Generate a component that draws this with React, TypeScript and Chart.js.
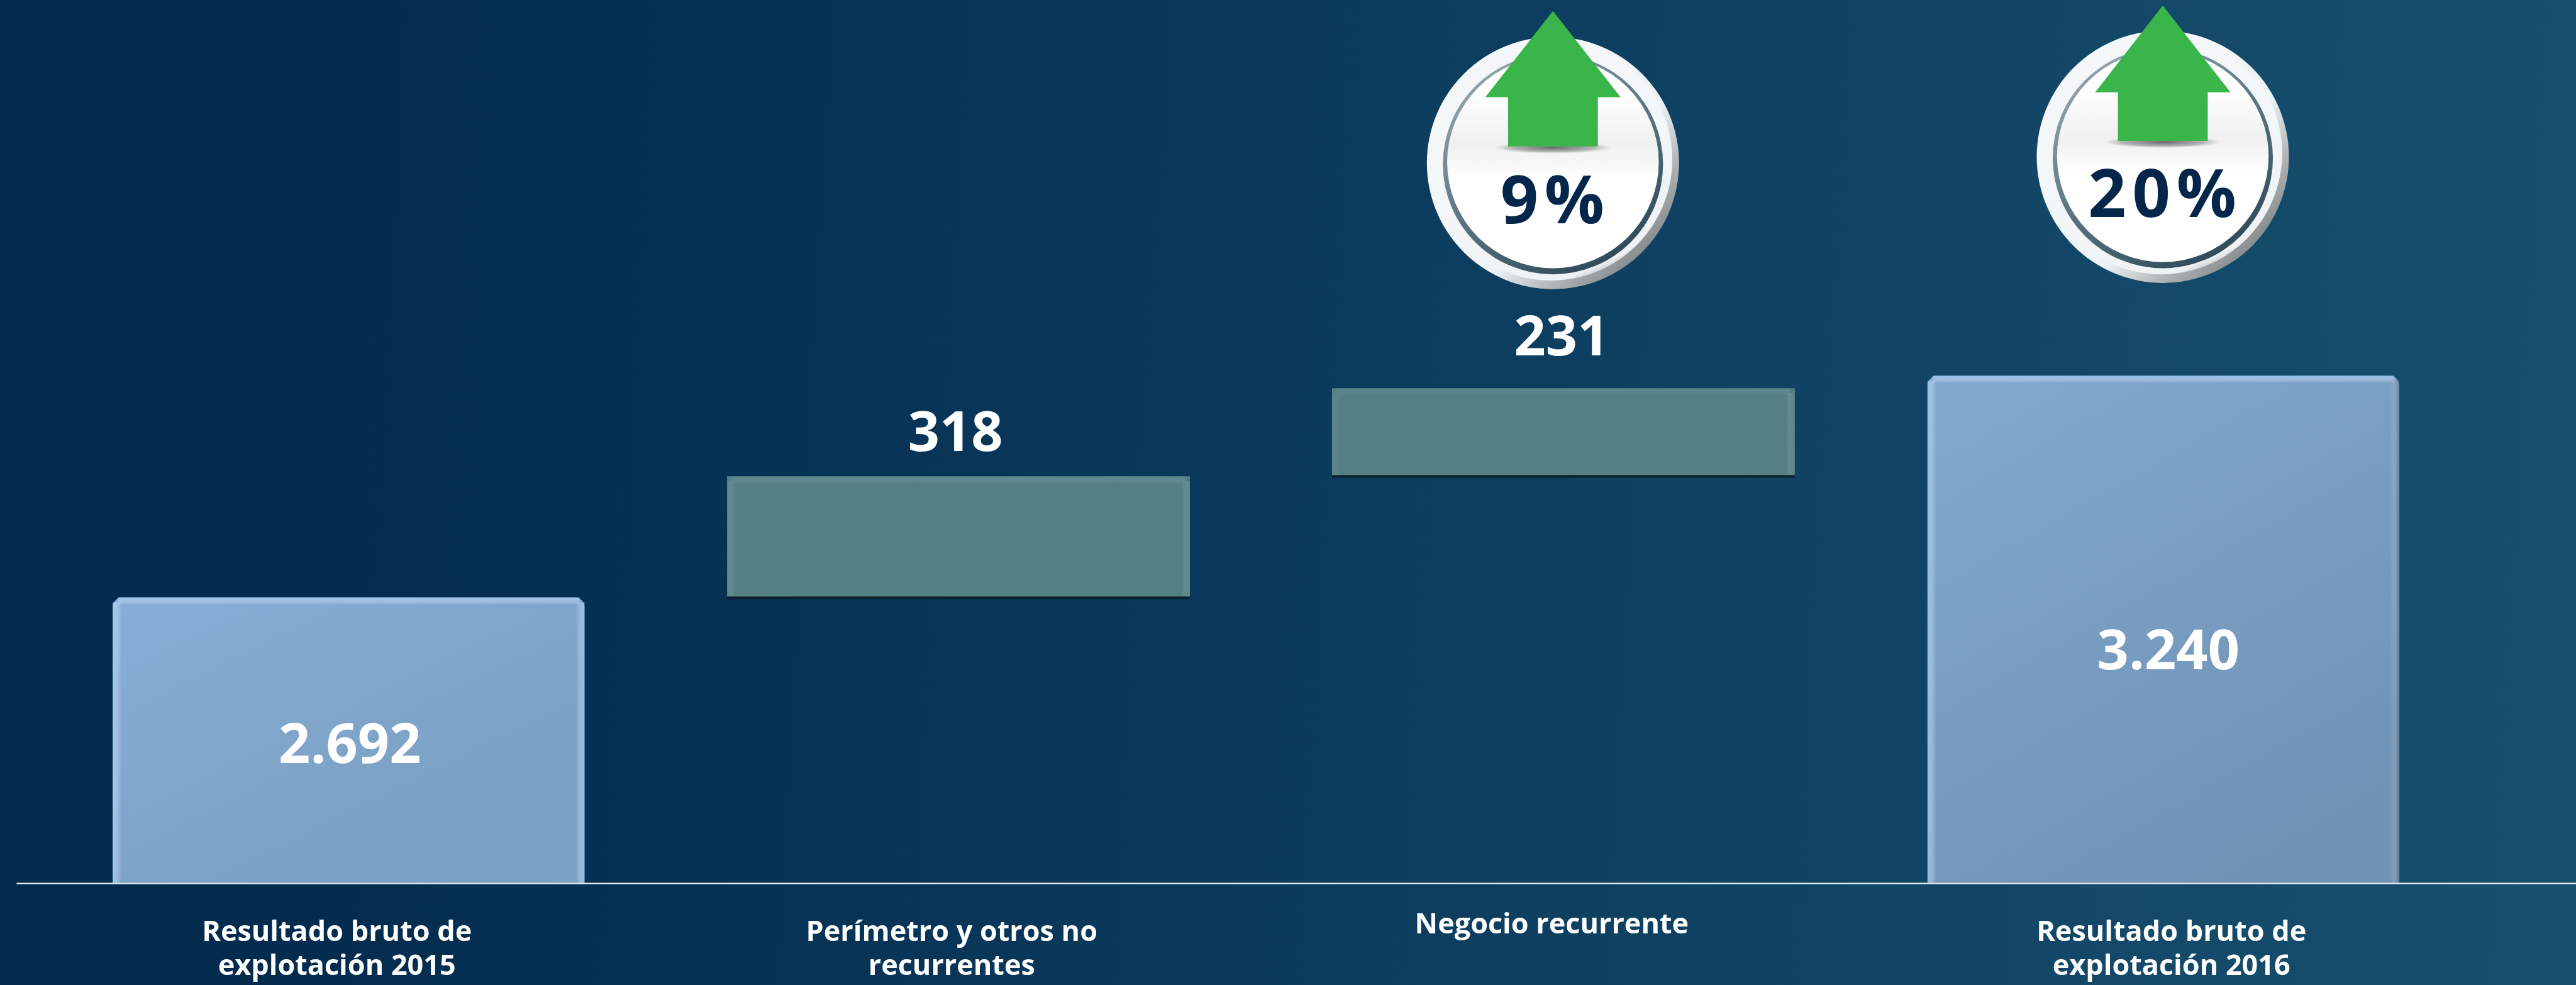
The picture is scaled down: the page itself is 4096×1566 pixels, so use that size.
import React, { useEffect, useRef } from "react";
import { Chart, registerables } from "chart.js";

Chart.register(...registerables);

const categories = [
  ["Resultado bruto de", "explotación 2015"],
  ["Perímetro y otros no", "recurrentes"],
  ["Negocio recurrente"],
  ["Resultado bruto de", "explotación 2016"],
];
const totals = [2692, null, null, 3240];
const steps = [null, [2692, 3010], [3010, 3241], null];
const valueLabels = ["2.692", "318", "231", "3.240"];
const badgeLabels = ["", "", "9%", "20%"];

const S = 0.978;
const W = 4096;
const H = 1566;
const px = (v: number) => v * S;
const FONT = '"Open Sans", sans-serif';

// placement tweaks, reference pixels
const STEP_BAR_DX = 8;
const TICK_DX = [-19, -3, -11, 13];
const TICK_DY = [0, 0, -13, 0];
const VALUE_DX = [2, -5, -3, 8];
const VALUE_Y = [1215, 707, 552, 1062];
const BADGE_GEOM: Record<number, { dx: number; cy: number; tip: number; base: number; bottom: number; text: number }> = {
  2: { dx: -17, cy: 265, tip: 18, base: 158, bottom: 238, text: 332 },
  3: { dx: -1, cy: 255, tip: 9, base: 150, bottom: 229, text: 322 },
};

function drawBadge(ctx: CanvasRenderingContext2D, x: number, g: any, label: string) {
  const cx = px(x);
  const cy = px(g.cy);
  ctx.save();
  // outer plate
  ctx.beginPath();
  ctx.arc(cx, cy, px(205), 0, Math.PI * 2);
  const plate = ctx.createLinearGradient(cx - px(140), cy - px(140), cx + px(150), cy + px(150));
  plate.addColorStop(0, "#f6f9fa");
  plate.addColorStop(0.62, "#eef3f5");
  plate.addColorStop(0.85, "#a9aeb0");
  plate.addColorStop(1, "#85898b");
  ctx.fillStyle = plate;
  ctx.fill();
  // lower shade inside the plate
  ctx.beginPath();
  ctx.arc(cx - px(3), cy - px(6), px(197), 0, Math.PI * 2);
  const plate2 = ctx.createLinearGradient(cx, cy, cx + px(90), cy + px(200));
  plate2.addColorStop(0, "#f4f7f9");
  plate2.addColorStop(0.82, "#eef2f4");
  plate2.addColorStop(1, "#8f9496");
  ctx.fillStyle = plate2;
  ctx.fill();
  // ring
  ctx.beginPath();
  ctx.arc(cx, cy + px(2), px(179), 0, Math.PI * 2);
  const ring = ctx.createLinearGradient(cx - px(100), cy - px(160), cx + px(100), cy + px(170));
  ring.addColorStop(0, "#93a4ae");
  ring.addColorStop(0.5, "#5a7482");
  ring.addColorStop(1, "#2d4957");
  ctx.fillStyle = ring;
  ctx.fill();
  // face
  ctx.beginPath();
  ctx.arc(cx, cy - px(1), px(172), 0, Math.PI * 2);
  ctx.fillStyle = "#ffffff";
  ctx.fill();
  ctx.save();
  ctx.clip();
  const shade = ctx.createLinearGradient(0, px(g.bottom - 90), 0, px(g.bottom + 50));
  shade.addColorStop(0, "rgba(225,225,225,0)");
  shade.addColorStop(0.65, "rgba(225,225,225,0.5)");
  shade.addColorStop(1, "rgba(225,225,225,0)");
  ctx.fillStyle = shade;
  ctx.fillRect(cx - px(180), px(g.bottom - 90), px(360), px(140));
  ctx.translate(cx, px(g.bottom + 2));
  ctx.scale(1, 0.1);
  const blot = ctx.createRadialGradient(0, 0, 0, 0, 0, px(95));
  blot.addColorStop(0, "rgba(70,70,70,0.8)");
  blot.addColorStop(0.7, "rgba(90,90,90,0.4)");
  blot.addColorStop(1, "rgba(120,120,120,0)");
  ctx.fillStyle = blot;
  ctx.fillRect(-px(100), -px(100), px(200), px(200));
  ctx.restore();
  // arrow
  ctx.beginPath();
  ctx.moveTo(cx, px(g.tip));
  ctx.lineTo(cx + px(110), px(g.base));
  ctx.lineTo(cx + px(73), px(g.base));
  ctx.lineTo(cx + px(73), px(g.bottom));
  ctx.lineTo(cx - px(73), px(g.bottom));
  ctx.lineTo(cx - px(73), px(g.base));
  ctx.lineTo(cx - px(110), px(g.base));
  ctx.closePath();
  ctx.fillStyle = "#39b54a";
  ctx.fill();
  // text
  ctx.fillStyle = "#03264a";
  ctx.font = `700 ${px(108)}px ${FONT}`;
  (ctx as any).letterSpacing = `${px(10)}px`;
  ctx.textAlign = "center";
  ctx.textBaseline = "middle";
  ctx.fillText(label, cx + px(4), px(g.text));
  ctx.restore();
}

function drawBarEdges(ctx: CanvasRenderingContext2D, bar: any, floor: number, light: string, dark: string, bottomDark: boolean) {
  const l = bar.x - bar.width / 2;
  const r = bar.x + bar.width / 2;
  const t = bar.y;
  const b = Math.min(bar.base, floor);
  const e = px(14);
  ctx.save();
  let g = ctx.createLinearGradient(l, 0, l + e, 0);
  g.addColorStop(0, light);
  g.addColorStop(1, "rgba(255,255,255,0)");
  ctx.fillStyle = g;
  ctx.fillRect(l, t + px(8), e, b - t - px(8));
  g = ctx.createLinearGradient(r - e, 0, r, 0);
  g.addColorStop(0, "rgba(255,255,255,0)");
  g.addColorStop(1, dark);
  ctx.fillStyle = g;
  ctx.fillRect(r - e, t + px(8), e, b - t - px(8));
  g = ctx.createLinearGradient(0, t, 0, t + px(12));
  g.addColorStop(0, light);
  g.addColorStop(1, "rgba(255,255,255,0)");
  ctx.fillStyle = g;
  ctx.fillRect(l + px(8), t, bar.width - px(16), px(12));
  if (bottomDark) {
    ctx.fillStyle = "#0a1f2a";
    ctx.fillRect(l, b - px(2), bar.width, px(4));
  }
  ctx.restore();
}

const backdrop = {
  id: "backdrop",
  beforeDraw(chart: any) {
    const { ctx, width, height } = chart;
    const g = ctx.createLinearGradient(0, 0, width, height * 0.15);
    g.addColorStop(0, "#032b4e");
    g.addColorStop(0.12, "#032b4e");
    g.addColorStop(0.5, "#0b3a5c");
    g.addColorStop(1, "#174f6e");
    ctx.save();
    ctx.fillStyle = g;
    ctx.fillRect(0, 0, width, height);
    ctx.restore();
  },
};

const placement = {
  id: "placement",
  afterDatasetsUpdate(chart: any) {
    chart.getDatasetMeta(1).data.forEach((bar: any) => {
      bar.x += px(STEP_BAR_DX);
    });
  },
  afterLayout(chart: any) {
    chart.scales.x.getLabelItems().forEach((item: any, i: number) => {
      item.options.translation[0] += px(TICK_DX[i]);
      item.options.translation[1] += px(TICK_DY[i]);
    });
  },
};

const overlay = {
  id: "overlay",
  afterDatasetsDraw(chart: any) {
    const { ctx, width } = chart;
    const floor = chart.scales.y.bottom;
    const bars = [
      chart.getDatasetMeta(0).data[0],
      chart.getDatasetMeta(1).data[1],
      chart.getDatasetMeta(1).data[2],
      chart.getDatasetMeta(0).data[3],
    ];
    drawBarEdges(ctx, bars[0], floor, "rgba(160,205,245,0.75)", "rgba(160,205,245,0.6)", false);
    drawBarEdges(ctx, bars[1], floor, "rgba(120,165,165,0.2)", "rgba(120,165,165,0.25)", true);
    drawBarEdges(ctx, bars[2], floor, "rgba(120,165,165,0.12)", "rgba(90,125,130,0.35)", true);
    drawBarEdges(ctx, bars[3], floor, "rgba(150,200,245,0.75)", "rgba(70,95,125,0.55)", false);

    // baseline
    ctx.save();
    ctx.strokeStyle = "#e8eef2";
    ctx.lineWidth = px(2.5);
    ctx.beginPath();
    ctx.moveTo(px(27), floor + px(1));
    ctx.lineTo(width, floor + px(1));
    ctx.stroke();

    // value labels
    ctx.fillStyle = "#ffffff";
    ctx.font = `700 ${px(90)}px ${FONT}`;
    ctx.textAlign = "center";
    ctx.textBaseline = "middle";
    valueLabels.forEach((label, i) => {
      ctx.fillText(label, bars[i].x + px(VALUE_DX[i]), px(VALUE_Y[i]));
    });
    ctx.restore();

    // growth badges
    badgeLabels.forEach((label, i) => {
      if (!label) return;
      const g = BADGE_GEOM[i];
      drawBadge(ctx, bars[i].x / S + g.dx, g, label);
    });
  },
};

function totalFill(c: any) {
  const { ctx, chartArea } = c.chart;
  if (!chartArea) return "#82a9d1";
  const isFirst = c.dataIndex === 0;
  const g = ctx.createLinearGradient(
    isFirst ? px(170) : px(3130),
    isFirst ? px(970) : px(610),
    isFirst ? px(400) : px(3600),
    chartArea.bottom
  );
  g.addColorStop(0, isFirst ? "#87afd7" : "#83a9d0");
  g.addColorStop(1, isFirst ? "#7ca1c6" : "#7093b6");
  return g;
}

export default function App() {
  const ref = useRef<HTMLCanvasElement>(null);
  useEffect(() => {
    document.body.style.margin = "0";
    document.body.style.overflow = "hidden";
    const chart = new Chart(ref.current as HTMLCanvasElement, {
      type: "bar",
      data: {
        labels: categories as any,
        datasets: [
          {
            data: totals as any,
            yAxisID: "y",
            barPercentage: 0.78,
            categoryPercentage: 1,
            grouped: false,
            borderRadius: { topLeft: px(16), topRight: px(16), bottomLeft: 0, bottomRight: 0 },
            borderSkipped: false,
            backgroundColor: totalFill,
          },
          {
            data: steps as any,
            yAxisID: "y2",
            barPercentage: 0.765,
            categoryPercentage: 1,
            grouped: false,
            backgroundColor: "#548084",
          },
        ],
      },
      options: {
        responsive: false,
        animation: false,
        devicePixelRatio: 1,
        layout: { padding: { left: px(75), right: px(179), top: 0, bottom: 0 } },
        plugins: { legend: { display: false }, tooltip: { enabled: false }, title: { display: false } },
        scales: {
          x: {
            type: "category",
            grid: { display: false, drawTicks: false },
            border: { display: false },
            afterFit: (s: any) => {
              s.height = px(166);
            },
            ticks: {
              color: "#ffffff",
              autoSkip: false,
              maxRotation: 0,
              padding: px(54),
              font: { family: "Open Sans", size: px(46), weight: "700", lineHeight: 1.2 },
            },
          },
          y: { display: false, min: 1986, max: 4169 },
          y2: { display: false, min: 1945, max: 4258 },
        },
      } as any,
      plugins: [backdrop, placement, overlay],
    });
    return () => chart.destroy();
  }, []);
  return (
    <canvas
      ref={ref}
      width={W}
      height={H}
      style={{ position: "absolute", left: 0, top: 0, display: "block" }}
    />
  );
}
